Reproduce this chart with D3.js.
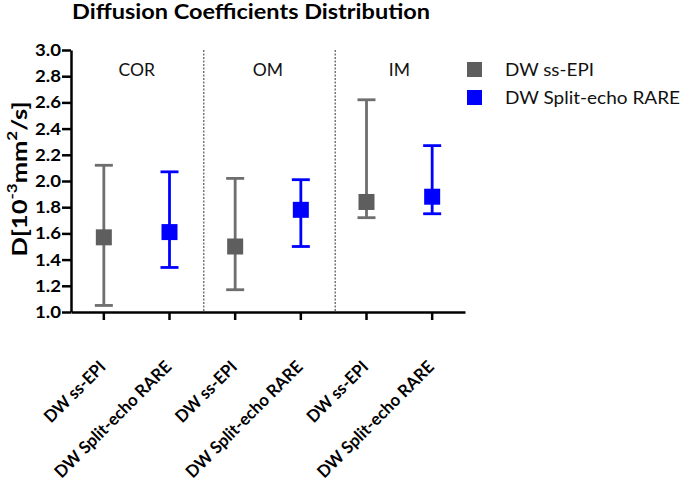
<!DOCTYPE html>
<html><head><meta charset="utf-8">
<script src="https://cdn.jsdelivr.net/npm/d3@7"></script>
<style>body{margin:0;background:#fff}svg{display:block;font-family:Lato,"Open Sans",sans-serif}</style>
</head><body><svg id="c" width="685" height="481"></svg>
<script>
const groups = ["COR", "OM", "IM"];
const series = ["DW ss-EPI", "DW Split-echo RARE"];
const epiMean = [1.57, 1.50, 1.84];
const epiLow  = [1.05, 1.17, 1.72];
const epiHigh = [2.12, 2.02, 2.62];
const rareMean = [1.61, 1.78, 1.88];
const rareLow  = [1.34, 1.50, 1.75];
const rareHigh = [2.07, 2.01, 2.27];
const yTicks = [1.0, 1.2, 1.4, 1.6, 1.8, 2.0, 2.2, 2.4, 2.6, 2.8, 3.0];
const title = "Diffusion Coefficients Distribution";

const seriesColor = ["#5e5e5e", "#0000ff"];
const whiskerColor = ["#6e6e6e", "#0000ff"];

const rows = [];
groups.forEach((g, i) => {
  rows.push({key: g + "|0", group: g, s: 0, mean: epiMean[i], low: epiLow[i], high: epiHigh[i]});
  rows.push({key: g + "|1", group: g, s: 1, mean: rareMean[i], low: rareLow[i], high: rareHigh[i]});
});

const svg = d3.select("#c");
const x = d3.scaleBand().domain(rows.map(r => r.key)).range([71, 465]).padding(0);
const y = d3.scaleLinear().domain([1, 3]).range([312, 50]);
const bw = x.bandwidth();

// title
svg.append("text").attr("x", 72).attr("y", 19)
  .attr("font-weight", "bold").attr("font-size", 20.5)
  .attr("textLength", 358).attr("lengthAdjust", "spacingAndGlyphs")
  .text(title);

// dividers
groups.slice(1).forEach(g => {
  const xv = x(g + "|0") + 1.5;
  svg.append("line").attr("x1", xv).attr("x2", xv).attr("y1", y(3)).attr("y2", y(1))
    .attr("stroke", "#333").attr("stroke-width", 1).attr("stroke-dasharray", "2,1.5");
});

// category labels
groups.forEach(g => {
  const cx = (x(g + "|0") + x(g + "|1") + bw) / 2;
  svg.append("text").attr("x", cx).attr("y", 76).attr("text-anchor", "middle")
    .attr("font-size", 17.5).attr("fill", "#111").text(g);
});

// y axis
const yAx = svg.append("g").attr("transform", "translate(71,0)")
  .call(d3.axisLeft(y).tickValues(yTicks).tickFormat(d3.format(".1f")).tickSize(9).tickSizeOuter(0).tickPadding(1));
yAx.select(".domain").attr("stroke-width", 2.5).attr("stroke", "#000");
yAx.selectAll(".tick line").attr("stroke-width", 2.5).attr("stroke", "#000");
yAx.selectAll(".tick text").attr("font-family", "Lato").attr("font-weight", "bold")
  .attr("font-size", 17).attr("fill", "#000")
  .attr("textLength", 26).attr("lengthAdjust", "spacingAndGlyphs");

// x axis
const xAx = svg.append("g").attr("transform", "translate(0,312)")
  .call(d3.axisBottom(x).tickSize(8).tickSizeOuter(0).tickFormat(""));
xAx.select(".domain").attr("stroke-width", 2.5).attr("stroke", "#000");
xAx.selectAll(".tick line").attr("stroke-width", 2.5).attr("stroke", "#000");

// x labels rotated
const labelLen = [79, 157];
rows.forEach(r => {
  const px = x(r.key) + bw / 2 + 3;
  svg.append("text").attr("transform", `translate(${px},368) rotate(-45)`)
    .attr("text-anchor", "end").attr("font-weight", "bold").attr("font-size", 17)
    .attr("textLength", labelLen[r.s]).attr("lengthAdjust", "spacingAndGlyphs")
    .text(series[r.s]);
});

// y title
const yt = svg.append("text").attr("transform", "translate(26.5,179) rotate(-90)")
  .attr("text-anchor", "middle").attr("font-weight", "bold").attr("font-size", 21)
  .attr("textLength", 155).attr("lengthAdjust", "spacingAndGlyphs");
yt.append("tspan").text("D[10");
yt.append("tspan").attr("font-size", 14).attr("dy", -10).text("-3");
yt.append("tspan").attr("dy", 10).text("mm");
yt.append("tspan").attr("font-size", 14).attr("dy", -10).text("2");
yt.append("tspan").attr("dy", 10).text("/s]");

// error bars
const marks = svg.append("g");
rows.forEach(r => {
  const cx = x(r.key) + bw / 2;
  const c = whiskerColor[r.s];
  marks.append("line").attr("x1", cx).attr("x2", cx).attr("y1", y(r.low)).attr("y2", y(r.high))
    .attr("stroke", c).attr("stroke-width", 2.8);
  [r.low, r.high].forEach(v => {
    marks.append("line").attr("x1", cx - 9).attr("x2", cx + 9).attr("y1", y(v)).attr("y2", y(v))
      .attr("stroke", c).attr("stroke-width", 2.8);
  });
  marks.append("rect").attr("x", cx - 8).attr("y", y(r.mean) - 8).attr("width", 16).attr("height", 16)
    .attr("fill", seriesColor[r.s]);
});

// legend
series.forEach((s, i) => {
  const ly = 62 + i * 28;
  svg.append("rect").attr("x", 467).attr("y", ly).attr("width", 15).attr("height", 15)
    .attr("fill", seriesColor[i]);
  svg.append("text").attr("x", 505).attr("y", ly + 14).attr("font-size", 16.5)
    .attr("fill", "#111")
    .attr("textLength", i === 0 ? 89 : 175).attr("lengthAdjust", "spacingAndGlyphs")
    .text(s);
});
</script></body></html>
